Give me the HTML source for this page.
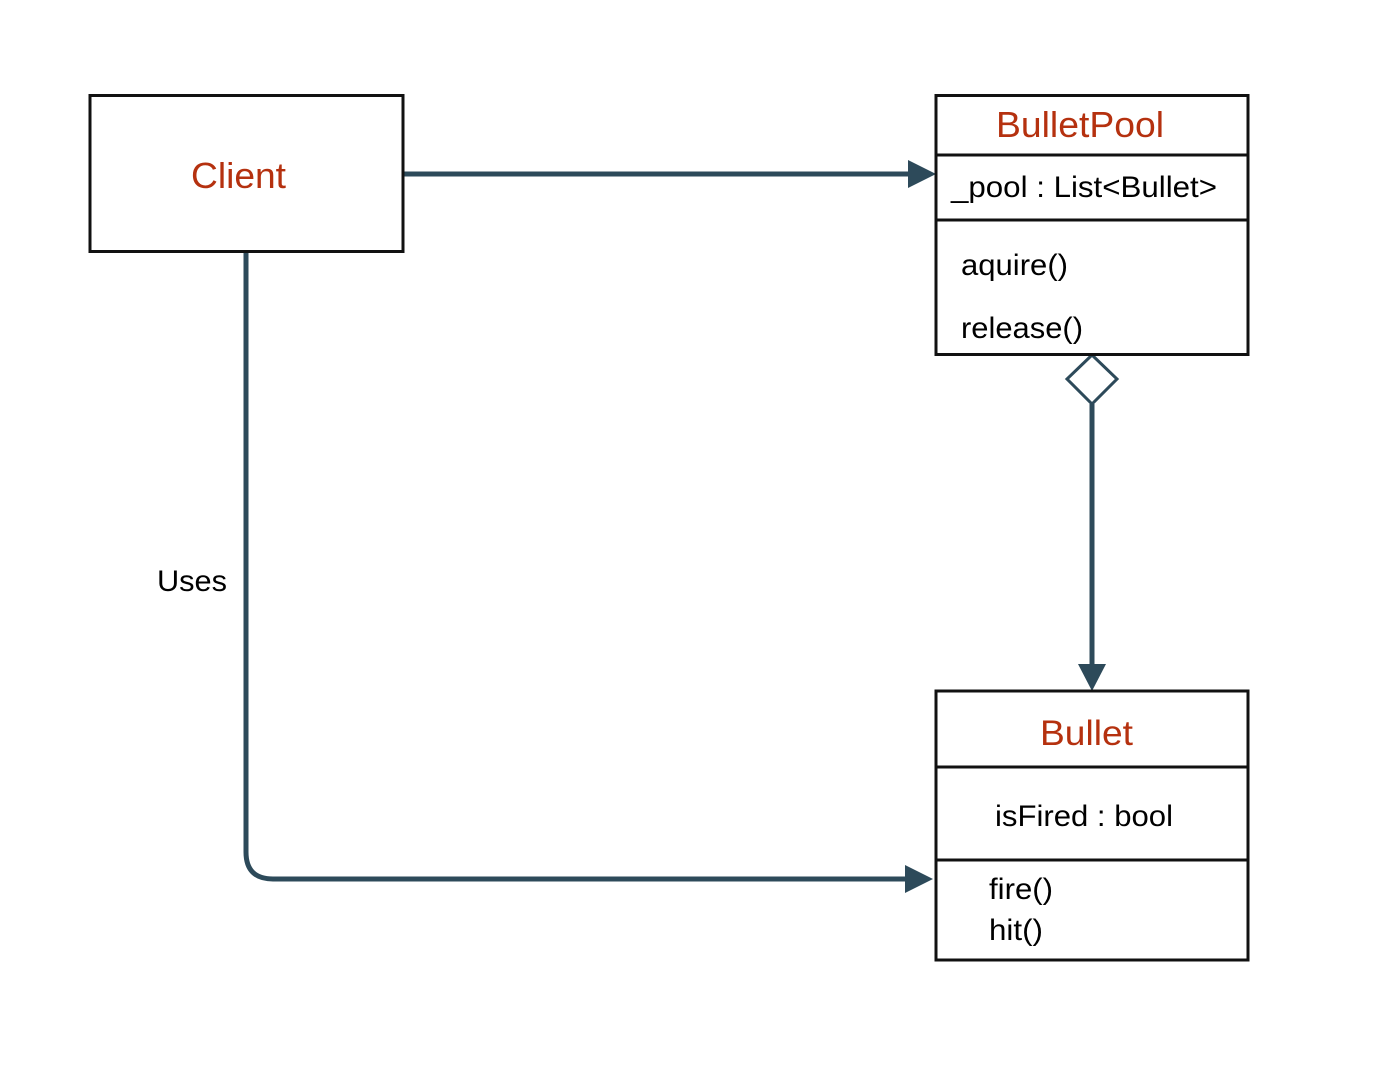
<!DOCTYPE html>
<html><head><meta charset="utf-8"><style>
html,body{margin:0;padding:0;background:#fff;}
svg{display:block;}
text{font-family:"Liberation Sans",Arial,sans-serif;}
</style></head><body>
<svg width="1400" height="1074" viewBox="0 0 1400 1074" xmlns="http://www.w3.org/2000/svg">
<rect x="0" y="0" width="1400" height="1074" fill="#fff"/>
<g stroke="#2d4a5a" stroke-width="5" fill="none">
<line x1="403" y1="174" x2="910" y2="174"/>
<line x1="1092" y1="404" x2="1092" y2="666"/>
<path d="M246 251 L246 852 Q246 879 273 879 L907 879"/>
</g>
<g fill="#2d4a5a">
<polygon points="908,160 936,174 908,188"/>
<polygon points="1078,664 1092,691 1106,664"/>
<polygon points="905,865 933,879 905,893"/>
</g>
<polygon points="1092,355 1117,379 1092,404 1067,379" fill="#fff" stroke="#2d4a5a" stroke-width="3"/>
<g stroke="#111" stroke-width="3" fill="none">
<rect x="90" y="95.5" width="313" height="156"/>
<rect x="936" y="95.5" width="312" height="259"/>
<line x1="936" y1="155" x2="1248" y2="155"/>
<line x1="936" y1="220" x2="1248" y2="220"/>
<rect x="936" y="691" width="312" height="269"/>
<line x1="936" y1="767" x2="1248" y2="767"/>
<line x1="936" y1="860" x2="1248" y2="860"/>
</g>
<g fill="#b5310f" lengthAdjust="spacingAndGlyphs">
<text x="191" y="188" font-size="36" textLength="95" lengthAdjust="spacingAndGlyphs">Client</text>
<text x="996" y="137" font-size="36" textLength="168" lengthAdjust="spacingAndGlyphs">BulletPool</text>
<text x="1040" y="745" font-size="35" textLength="93" lengthAdjust="spacingAndGlyphs">Bullet</text>
</g>
<g fill="#000" font-size="30">
<text x="951" y="197" textLength="266" lengthAdjust="spacingAndGlyphs">_pool : List&lt;Bullet&gt;</text>
<text x="961" y="275" textLength="107" lengthAdjust="spacingAndGlyphs">aquire()</text>
<text x="961" y="338" textLength="122" lengthAdjust="spacingAndGlyphs">release()</text>
<text x="995" y="826" textLength="178" lengthAdjust="spacingAndGlyphs">isFired : bool</text>
<text x="989" y="899" textLength="64" lengthAdjust="spacingAndGlyphs">fire()</text>
<text x="989" y="940" textLength="54" lengthAdjust="spacingAndGlyphs">hit()</text>
<text x="157" y="591" textLength="70" lengthAdjust="spacingAndGlyphs">Uses</text>
</g>
</svg>
</body></html>
